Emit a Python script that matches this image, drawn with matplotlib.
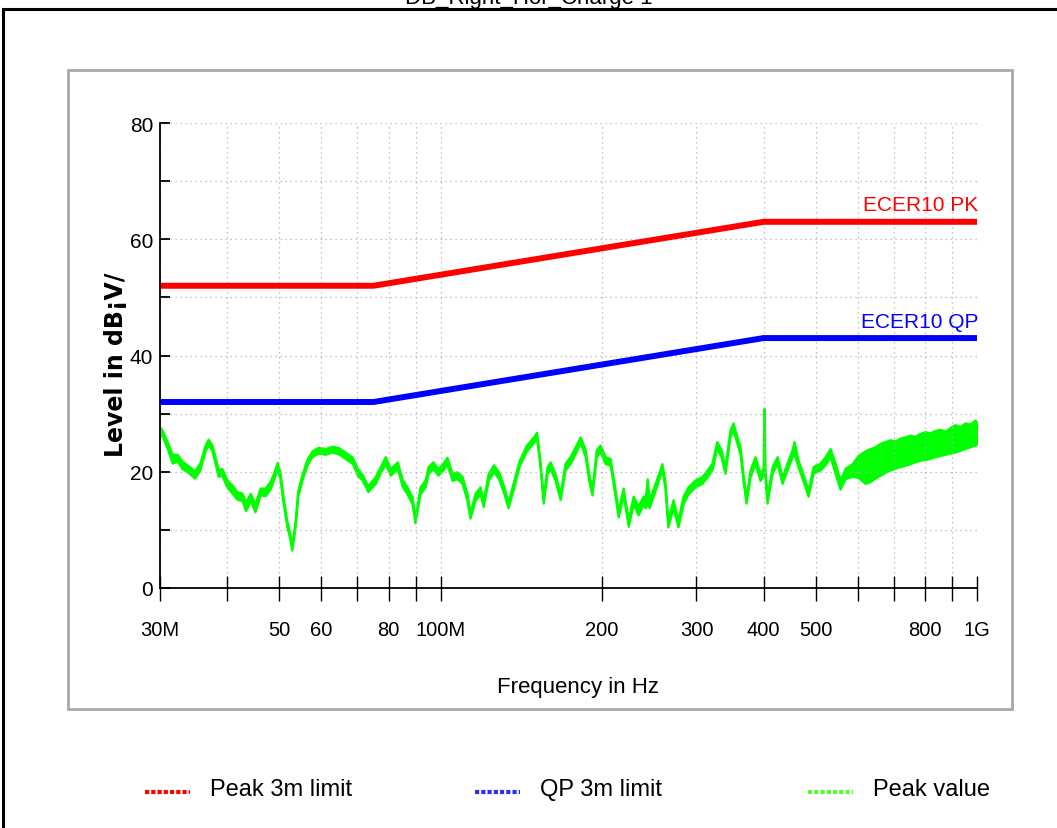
import matplotlib.pyplot as plt
from matplotlib.lines import Line2D
from matplotlib.patches import Rectangle
from matplotlib.ticker import FixedLocator, NullLocator

ARIAL = ['Liberation Sans', 'DejaVu Sans']

# limit lines (MHz, dBuV)
limit_freq = [30, 75, 400, 1000]
pk_limit = [52, 52, 63, 63]
qp_limit = [32, 32, 43, 43]

peak_freq = [30.1, 30.4, 31.0, 31.6, 32.3, 33.0, 33.7, 34.8, 35.6, 36.4, 36.9, 37.5, 38.0, 38.5,
             39.1, 40.0, 40.8, 41.7, 42.7, 43.3, 44.2, 45.1, 46.1, 47.1, 48.1, 48.7, 49.6, 50.2,
             50.9, 51.7, 52.4, 52.8, 53.5, 54.2, 55.2, 56.4, 57.6, 59.1, 61.0, 62.8, 64.4, 66.4,
             68.5, 70.0, 71.4, 73.2, 75.6, 77.2, 78.9, 80.6, 83.1, 84.9, 86.6, 88.5, 89.6, 91.6,
             93.6, 94.8, 96.8, 98.9, 101.1, 102.8, 105.1, 107.3, 109.7, 112.0, 113.5, 116.0, 118.5,
             120.1, 122.7, 125.5, 128.3, 131.3, 133.6, 136.5, 140.1, 144.4, 149.0, 151.0, 153.0,
             155.4, 158.0, 160.1, 163.5, 167.1, 170.7, 174.4, 178.2, 182.1, 186.1, 188.9, 191.6,
             195.1, 198.4, 202.7, 207.1, 211.6, 214.4, 219.0, 223.8, 228.6, 233.6, 238.7, 240.7,
             242.8, 244.9, 251.2, 258.6, 261.9, 265.3, 271.3, 277.1, 283.1, 289.3, 298.1, 307.2,
             313.9, 320.6, 327.2, 333.3, 339.1, 346.4, 350.9, 361.6, 366.3, 371.1, 377.5, 385.7,
             394.1, 399.3, 401.0, 402.7, 406.0, 415.0, 424.1, 433.2, 442.6, 452.2, 456.1, 464.0,
             478.1, 484.3, 494.8, 509.9, 521.1, 532.3, 543.9, 555.6, 567.7, 585.1, 600.3, 618.5,
             632.0, 645.8, 659.7, 674.1, 688.7, 703.7, 718.9, 734.4, 750.1, 766.5, 783.0, 800.0,
             817.4, 835.2, 853.2, 871.8, 890.7, 910.1, 929.8, 950.1, 970.6, 991.5, 1000]
peak_lo = [26.5, 25.8, 23.8, 21.5, 21.8, 20.5, 20.0, 18.9, 20.3, 23.6, 24.6, 23.6, 21.4, 19.2,
           19.4, 17.3, 16.4, 15.3, 15.0, 13.3, 15.0, 13.1, 16.0, 15.9, 17.0, 18.3, 20.5, 18.8,
           14.5, 10.6, 8.4, 6.5, 10.0, 15.8, 18.6, 21.2, 22.6, 23.2, 23.0, 23.4, 23.1, 22.3,
           21.4, 19.4, 18.6, 16.6, 18.0, 19.8, 21.4, 19.4, 20.5, 17.4, 16.2, 14.5, 11.2, 16.2,
           17.4, 19.7, 20.5, 19.4, 20.3, 21.3, 18.5, 18.8, 18.0, 15.1, 12.0, 15.1, 16.2,
           14.0, 18.5, 20.0, 18.8, 16.2, 13.8, 16.8, 20.9, 23.5, 25.0, 25.8, 21.5,
           14.6, 19.7, 20.5, 18.5, 15.2, 20.3, 21.4, 23.1, 25.0, 22.6, 18.5, 16.0,
           22.6, 23.4, 21.4, 21.1, 15.7, 12.2, 16.0, 10.6, 14.4, 12.6, 14.4, 13.8,
           14.5, 13.8, 16.8, 20.3, 17.4, 10.5, 13.8, 10.5, 14.4, 16.2, 17.4, 18.0,
           19.1, 20.3, 24.0, 22.6, 19.7, 26.0, 27.2, 23.1, 18.5, 14.6, 19.1, 21.4,
           18.5, 19.5, 19.5, 19.0, 14.6, 19.7, 21.4, 18.0, 20.3, 22.6, 23.0, 20.8,
           17.4, 15.8, 19.7, 20.3, 21.2, 22.6, 19.7, 17.0, 18.8, 19.2, 19.0, 18.0,
           18.3, 18.9, 19.4, 19.9, 20.3, 20.6, 20.9, 21.1, 21.4, 21.7, 22.0, 22.1,
           22.3, 22.6, 22.8, 23.0, 23.2, 23.4, 23.7, 24.0, 24.3, 24.6, 24.8]
peak_hi = [27.5, 26.8, 25.0, 23.0, 23.0, 21.8, 21.2, 20.2, 21.5, 24.6, 25.6, 24.6, 22.6, 20.4,
           20.6, 18.6, 17.8, 16.6, 16.3, 14.8, 16.3, 14.5, 17.2, 17.2, 18.3, 19.5, 21.6, 20.0,
           15.6, 11.6, 9.3, 7.3, 11.0, 16.8, 19.6, 22.2, 23.6, 24.2, 24.0, 24.4, 24.2, 23.4,
           22.5, 20.6, 19.6, 17.6, 19.2, 20.9, 22.6, 20.6, 21.7, 18.6, 17.4, 15.7, 12.2, 17.4,
           18.6, 20.9, 21.7, 20.6, 21.5, 22.5, 19.7, 20.0, 19.2, 16.3, 13.0, 16.3, 17.4,
           15.0, 19.7, 21.2, 20.0, 17.4, 14.8, 18.0, 21.9, 24.5, 26.0, 26.8, 22.5,
           15.6, 20.9, 21.7, 19.7, 16.2, 21.5, 22.6, 24.3, 26.0, 23.8, 19.7, 17.1,
           23.8, 24.6, 22.6, 22.3, 16.9, 13.4, 17.2, 11.8, 15.8, 14.2, 15.8, 15.3,
           18.8, 15.3, 18.0, 21.4, 18.6, 11.7, 15.2, 11.8, 15.8, 17.4, 18.6, 19.2,
           20.3, 21.5, 25.2, 23.8, 20.9, 27.2, 28.4, 24.3, 19.7, 15.6, 20.3, 22.6,
           19.7, 20.7, 30.9, 20.2, 15.6, 20.9, 22.6, 19.2, 21.5, 23.8, 25.2, 22.0,
           18.6, 16.8, 20.9, 21.5, 22.6, 24.0, 21.5, 18.6, 20.6, 21.4, 22.8, 23.6,
           24.0, 24.3, 24.9, 25.2, 25.5, 25.3, 25.8, 26.0, 26.3, 26.1, 26.6, 26.9,
           26.7, 27.1, 27.3, 27.0, 27.6, 28.1, 27.8, 28.4, 28.2, 28.9, 28.4]

x_ticks = [30, 40, 50, 60, 70, 80, 90, 100, 200, 300, 400, 500, 600, 700, 800, 900, 1000]
x_labels = ['30M', '', '50', '60', '', '80', '', '100M', '200', '300', '400', '500', '', '', '800', '', '1G']
y_ticks = [0, 10, 20, 30, 40, 50, 60, 70, 80]
y_labels = ['0', '', '20', '', '40', '', '60', '', '80']

fig = plt.figure(figsize=(10.57, 8.29), dpi=100)

# outer black frame and grey inner panel
fig.patches.append(Rectangle((0.0028, -0.02), 1.05, 1.02 - 10 / 829, transform=fig.transFigure,
                             fill=False, edgecolor='black', lw=2.2))
fig.patches.append(Rectangle((68 / 1057, 1 - 710 / 829), 944 / 1057, 639 / 829, transform=fig.transFigure,
                             fill=False, edgecolor='#a8a8a8', lw=2))

fig.text(0.5, 1 - 4 / 829, 'DB_Right_Hor_Charge 1', ha='center', va='baseline',
         fontsize=16, family=ARIAL)

ax = fig.add_axes([160 / 1057, 1 - 589 / 829, 817 / 1057, 465 / 829])
ax.set_xscale('log')
ax.set_xlim(30, 1000)
ax.set_ylim(0, 80)

ax.fill_between(peak_freq, peak_lo, peak_hi, color='#00ff00', edgecolor='#00ff00', lw=1.6)
ax.plot(limit_freq, pk_limit, color='#ff0000', lw=4.3, solid_capstyle='butt')
ax.plot(limit_freq, qp_limit, color='#0000ff', lw=4.3, solid_capstyle='butt')

ax.text(1005, 64.3, 'ECER10 PK', color='#ff0000', ha='right', va='bottom', fontsize=15, family=ARIAL)
ax.text(1005, 44.3, 'ECER10 QP', color='#0000ff', ha='right', va='bottom', fontsize=15, family=ARIAL)

ax.xaxis.set_major_locator(FixedLocator(x_ticks))
ax.xaxis.set_minor_locator(NullLocator())
ax.set_xticklabels(x_labels, family=ARIAL, fontsize=14.5)
ax.set_yticks(y_ticks)
ax.set_yticklabels(y_labels, family=ARIAL, fontsize=15)
ax.tick_params(axis='x', direction='inout', length=18, width=1, pad=14)
ax.tick_params(axis='y', direction='in', length=7, width=1.3, pad=5)

ax.grid(True, color='#b0b0b0', linestyle=(0, (1, 3)), lw=0.9)
for s in ['top', 'right']:
    ax.spines[s].set_visible(False)
ax.spines['left'].set_linewidth(1.3)
ax.spines['bottom'].set_linewidth(1.3)

fig.text(578 / 1057, 1 - 688 / 829, 'Frequency in Hz', ha='center', va='center', fontsize=16, family=ARIAL)
fig.text(116 / 1057, 1 - 365 / 829, 'Level in dB\u00a1V/', ha='center', va='center', rotation=90,
         fontsize=17, fontweight='bold', family=['DejaVu Sans'])

# legend along the bottom
legend_items = [('#ff0000', 'Peak 3m limit', 145), ('#3030e0', 'QP 3m limit', 475), ('#55ff33', 'Peak value', 808)]
for col, txt, x0 in legend_items:
    fig.lines.append(Line2D([x0 / 1057, (x0 + 45) / 1057], [1 - 793 / 829] * 2, transform=fig.transFigure,
                            color=col, lw=3, linestyle=(0, (1, 0.5))))
    fig.text((x0 + 65) / 1057, 1 - 790 / 829, txt, ha='left', va='center', fontsize=17, family=ARIAL)

fig.savefig('out.png', dpi=100)
